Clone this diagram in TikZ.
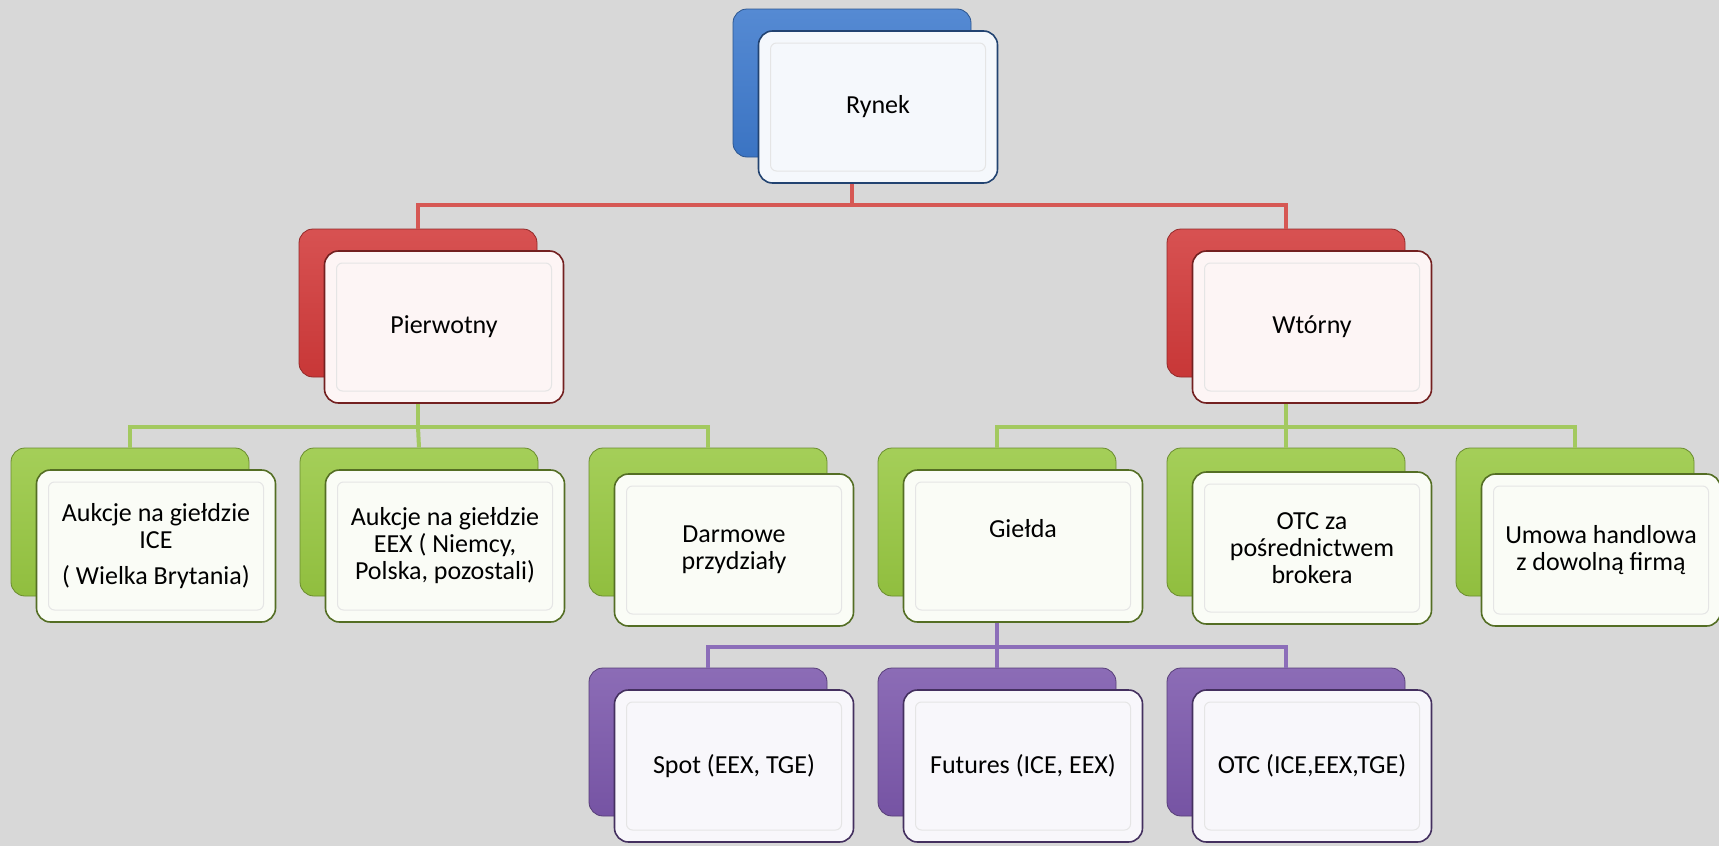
\documentclass[tikz,border=0pt]{standalone}
\usepackage{fontspec}
\setmainfont{Carlito}
\definecolor{bg}{RGB}{216,216,216}
\definecolor{cblue}{RGB}{62,122,205}
\definecolor{cred}{RGB}{210,58,58}
\definecolor{cgreen}{RGB}{152,200,66}
\definecolor{cpurple}{RGB}{124,88,172}
\definecolor{lred}{RGB}{214,88,84}
\definecolor{lgreen}{RGB}{163,201,96}
\definecolor{lpurple}{RGB}{140,110,185}
\begin{document}
\begin{tikzpicture}[x=1pt,y=-1pt,
  back/.style={minimum width=238pt,minimum height=148pt,rounded corners=14pt,inner sep=0pt,
    draw=#1!70!black,line width=0.8pt,top color=#1!88!white,bottom color=#1!95!black},
  front/.style={minimum width=239pt,minimum height=152pt,rounded corners=14pt,inner sep=0pt,
    align=center,font=\fontsize{26}{27}\selectfont,
    fill=#1!5!white,draw=#1!55!black,line width=1.6pt,
    path picture={\draw[black!10,line width=1pt,rounded corners=6pt]
      ([shift={(12pt,-12pt)}]path picture bounding box.north west) rectangle
      ([shift={(-12pt,12pt)}]path picture bounding box.south east);}},
  conn/.style={line width=4pt,draw=#1}]
\fill[bg] (0,0) rectangle (1719,846);
\useasboundingbox (0,0) rectangle (1719,846);
\coordinate (h1) at (0,205);
\coordinate (h2) at (0,427);
\coordinate (h3) at (0,647);
% back boxes
\node[back=cblue] (b0) at (852,83) {};
\node[back=cred] (b1) at (418,303) {};
\node[back=cred] (b2) at (1286,303) {};
\node[back=cgreen] (b3) at (130,522) {};
\node[back=cgreen] (b4) at (419,522) {};
\node[back=cgreen] (b5) at (708,522) {};
\node[back=cgreen] (b6) at (997,522) {};
\node[back=cgreen] (b7) at (1286,522) {};
\node[back=cgreen] (b8) at (1575,522) {};
\node[back=cpurple] (b9) at (708,742) {};
\node[back=cpurple] (b10) at (997,742) {};
\node[back=cpurple] (b11) at (1286,742) {};
% connectors
\draw[conn=lred] (b0.south) -- (b0.south |- h1) -| (b1.north);
\draw[conn=lred] (b0.south |- h1) -| (b2.north);
\draw[conn=lgreen] (b1.south) -- (b1.south |- h2) -| (b3.north);
\draw[conn=lgreen] (b1.south |- h2) -- (b4.north);
\draw[conn=lgreen] (b1.south |- h2) -| (b5.north);
\draw[conn=lgreen] (b2.south) -- (b2.south |- h2) -| (b6.north);
\draw[conn=lgreen] (b2.south |- h2) -- (b7.north);
\draw[conn=lgreen] (b2.south |- h2) -| (b8.north);
\draw[conn=lpurple] (b6.south) -- (b6.south |- h3) -| (b9.north);
\draw[conn=lpurple] (b6.south |- h3) -- (b10.north);
\draw[conn=lpurple] (b6.south |- h3) -| (b11.north);
% front boxes
\node[front=cblue] (f0) at (878,107) {Rynek};
\node[front=cred] (f1) at (444,327) {Pierwotny};
\node[front=cred] (f2) at (1312,327) {Wtórny};
\node[front=cgreen] (f3) at (156,546) {Aukcje na giełdzie\\ICE\\[9pt]( Wielka Brytania)};
\node[front=cgreen] (f4) at (445,546) {Aukcje na giełdzie\\EEX ( Niemcy,\\Polska, pozostali)};
\node[front=cgreen] (f5) at (734,550) {Darmowe\\przydziały};
\node[front=cgreen] (f6) at (1023,546) {Giełda\\\strut};
\node[front=cgreen] (f7) at (1312,548) {OTC za\\pośrednictwem\\brokera};
\node[front=cgreen] (f8) at (1601,550) {Umowa handlowa\\z dowolną firmą};
\node[front=cpurple] (f9) at (734,766) {Spot (EEX, TGE)};
\node[front=cpurple] (f10) at (1023,766) {Futures (ICE, EEX)};
\node[front=cpurple] (f11) at (1312,766) {OTC (ICE,EEX,TGE)};
\end{tikzpicture}
\end{document}
